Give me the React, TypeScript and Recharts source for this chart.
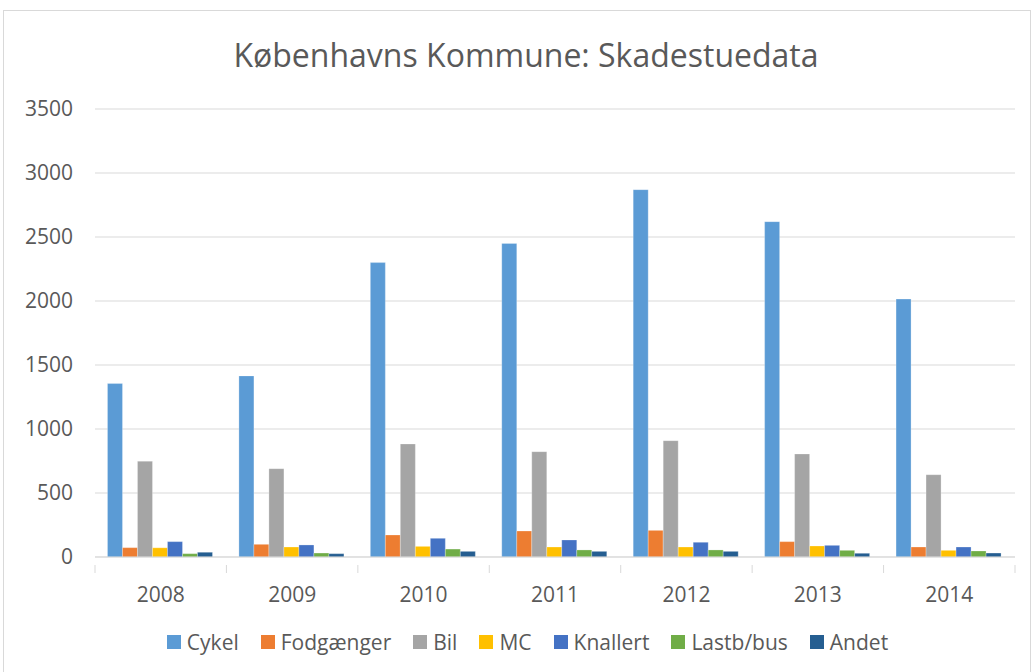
import { Bar, BarChart, CartesianGrid, Legend, XAxis, YAxis } from "recharts";

const years = ["2008", "2009", "2010", "2011", "2012", "2013", "2014"];
const cykel = [1355, 1415, 2300, 2450, 2870, 2620, 2015];
const fodgaenger = [73, 99, 172, 203, 208, 120, 78];
const bil = [748, 690, 883, 823, 909, 805, 643];
const mc = [72, 78, 83, 78, 78, 86, 52];
const knallert = [120, 94, 146, 133, 115, 91, 78];
const lastbBus = [26, 31, 62, 55, 55, 52, 47];
const andet = [37, 26, 44, 44, 44, 29, 31];
const yTicks = [0, 500, 1000, 1500, 2000, 2500, 3000, 3500];

const series = [
  { key: "cykel", name: "Cykel", color: "#5B9BD5", values: cykel },
  { key: "fodgaenger", name: "Fodgænger", color: "#ED7D31", values: fodgaenger },
  { key: "bil", name: "Bil", color: "#A5A5A5", values: bil },
  { key: "mc", name: "MC", color: "#FFC000", values: mc },
  { key: "knallert", name: "Knallert", color: "#4472C4", values: knallert },
  { key: "lastb", name: "Lastb/bus", color: "#70AD47", values: lastbBus },
  { key: "andet", name: "Andet", color: "#255E91", values: andet },
];

const data = years.map((year, i) => {
  const row: Record<string, string | number> = { year };
  series.forEach((s) => (row[s.key] = s.values[i]));
  return row;
});

const FONT = "'Open Sans', 'Noto Sans', sans-serif";
const TEXT = "#595959";
const GRID = "#d9d9d9";

function YearTick(props: any) {
  const { x, y, payload, index } = props;
  const half = payload?.offset ?? 920 / 7 / 2;
  return (
    <g>
      <line x1={x - half} x2={x - half} y1={y} y2={y + 8} stroke={GRID} />
      {index === years.length - 1 && (
        <line x1={x + half} x2={x + half} y1={y} y2={y + 8} stroke={GRID} />
      )}
      <text
        x={x}
        y={y + 31}
        textAnchor="middle"
        dominantBaseline="middle"
        fill={TEXT}
        fontSize={21}
        fontFamily={FONT}
      >
        {payload.value}
      </text>
    </g>
  );
}

function LegendContent() {
  return (
    <div
      style={{
        display: "flex",
        justifyContent: "center",
        alignItems: "center",
        height: 40,
        paddingLeft: 5,
        fontFamily: FONT,
        fontSize: 21,
        color: TEXT,
      }}
    >
      {series.map((s) => (
        <div
          key={s.key}
          style={{ display: "flex", alignItems: "center", margin: "0 11px" }}
        >
          <span
            style={{
              width: 14,
              height: 14,
              background: s.color,
              display: "inline-block",
              marginRight: 6,
            }}
          />
          {s.name}
        </div>
      ))}
    </div>
  );
}

export default function App() {
  return (
    <div
      style={{
        position: "absolute",
        left: 0,
        top: 0,
        width: 1033,
        height: 672,
        background: "#fff",
      }}
    >
      <div
        style={{
          position: "absolute",
          left: 3,
          top: 10,
          width: 1026,
          height: 670,
          border: `1px solid ${GRID}`,
        }}
      />
      <div
        style={{
          position: "absolute",
          left: 0,
          top: 34,
          width: 1052,
          textAlign: "center",
          fontFamily: FONT,
          fontSize: 32,
          lineHeight: "42px",
          color: TEXT,
        }}
      >
        Københavns Kommune: Skadestuedata
      </div>
      <div style={{ position: "absolute", left: 0, top: 0 }}>
        <BarChart
          width={1033}
          height={672}
          data={data}
          margin={{ top: 109, right: 18, bottom: 10, left: 35 }}
          barCategoryGap="9.5%"
          barGap={0}
        >
          <CartesianGrid vertical={false} stroke={GRID} />
          <XAxis
            dataKey="year"
            axisLine={{ stroke: GRID }}
            tickLine={false}
            tick={<YearTick />}
            height={65}
            interval={0}
          />
          <YAxis
            width={60}
            domain={[0, 3500]}
            ticks={yTicks}
            axisLine={false}
            tickLine={false}
            tickSize={0}
            tickMargin={22}
            tick={{ fill: TEXT, fontSize: 21, fontFamily: FONT }}
          />
          <Legend
            verticalAlign="bottom"
            content={<LegendContent />}
            wrapperStyle={{ height: 40 }}
          />
          {series.map((s) => (
            <Bar
              key={s.key}
              dataKey={s.key}
              name={s.name}
              fill={s.color}
              stroke="#ffffff"
              strokeOpacity={0.5}
              strokeWidth={0.5}
              isAnimationActive={false}
            />
          ))}
        </BarChart>
      </div>
    </div>
  );
}
